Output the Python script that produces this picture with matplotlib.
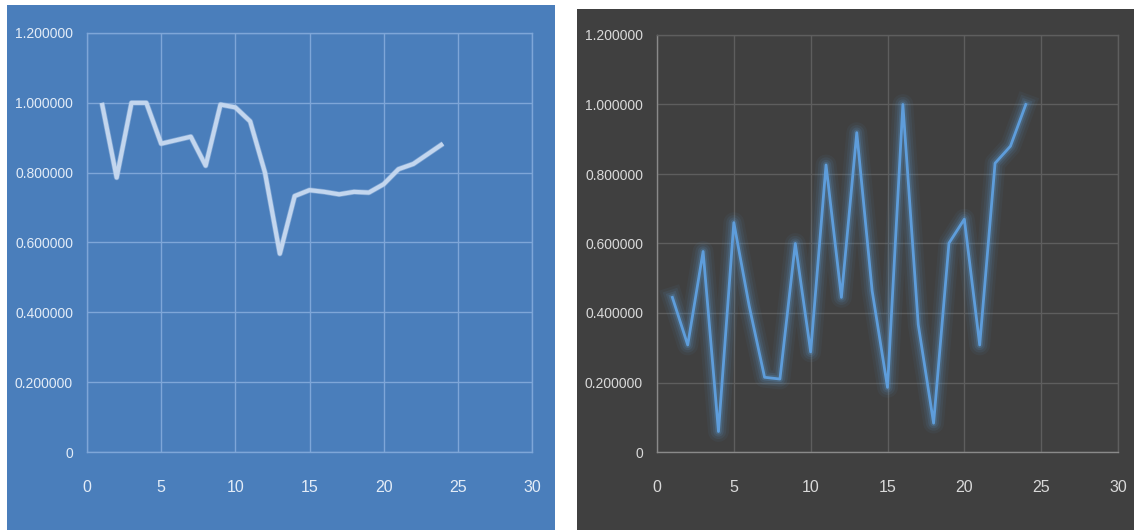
import matplotlib
matplotlib.use("Agg")
import matplotlib.pyplot as plt
import matplotlib.patheffects as pe
from matplotlib.patches import Rectangle
from matplotlib.ticker import FuncFormatter, MultipleLocator

# series values, one point per step 1..24
steps = list(range(1, 25))
ratio_a = [1.0, 0.786, 1.0, 1.0, 0.883, 0.893, 0.903, 0.82, 0.995, 0.987, 0.947, 0.80,
           0.568, 0.733, 0.75, 0.745, 0.738, 0.745, 0.743, 0.767, 0.81, 0.825, 0.854, 0.883]
ratio_b = [0.445, 0.308, 0.577, 0.059, 0.66, 0.42, 0.215, 0.21, 0.60, 0.288, 0.826, 0.445,
           0.919, 0.464, 0.186, 1.0, 0.367, 0.083, 0.601, 0.67, 0.308, 0.831, 0.88, 1.0]

plt.rcParams['font.family'] = ['Liberation Sans', 'DejaVu Sans']

W, H = 1134, 530
fig = plt.figure(figsize=(W / 100, H / 100), dpi=100, facecolor='white')

# panel backgrounds
fig.patches.append(Rectangle((7 / W, 0), 548 / W, 525 / H, transform=fig.transFigure,
                             facecolor='#4a7ebb', edgecolor='none', zorder=-5))
fig.patches.append(Rectangle((577 / W, 0), 557 / W, 521 / H, transform=fig.transFigure,
                             facecolor='#404040', edgecolor='none', zorder=-5))


def fmt(v, pos):
    return '0' if abs(v) < 1e-9 else '%.6f' % v


def style(ax, bg, grid, text):
    ax.set_zorder(2)
    ax.set_facecolor(bg)
    ax.set_xlim(0, 30)
    ax.set_ylim(0, 1.2)
    ax.xaxis.set_major_locator(MultipleLocator(5))
    ax.yaxis.set_major_locator(MultipleLocator(0.2))
    ax.yaxis.set_major_formatter(FuncFormatter(fmt))
    ax.grid(True, color=grid, linewidth=1.0)
    ax.set_axisbelow(True)
    for s in ax.spines.values():
        s.set_color(grid)
        s.set_linewidth(1.0)
    ax.tick_params(axis='y', length=0, pad=10, labelsize=10, labelcolor=text)
    ax.tick_params(axis='x', length=0, pad=20, labelsize=11.5, labelcolor=text)


# left chart
ax1 = fig.add_axes([87 / W, 78 / H, 445 / W, 419 / H])
style(ax1, '#4a7ebb', '#7ea6d8', '#e3ecf7')
ax1.plot(steps, ratio_a, color='#c3d6ee', linewidth=3.0, solid_joinstyle='round',
         solid_capstyle='butt',
         path_effects=[pe.Stroke(linewidth=4.0, foreground='#a9c4e6', alpha=0.5,
                                 joinstyle='round'), pe.Normal()])

# right chart
ax2 = fig.add_axes([657 / W, 78 / H, 461 / W, 417 / H])
style(ax2, '#404040', '#5e5e5e', '#d9d9d9')
ax2.spines['left'].set_color('#8a8a8a')
ax2.spines['bottom'].set_color('#8a8a8a')
glow = [pe.Stroke(linewidth=w, foreground='#5b9bd5', alpha=a, joinstyle='round')
        for w, a in [(15, 0.06), (11, 0.09), (7.5, 0.13), (4.5, 0.22)]]
ax2.plot(steps, ratio_b, color='#5e9ddb', linewidth=2.0, solid_joinstyle='round',
         path_effects=glow + [pe.Normal()])

fig.savefig('out.png', dpi=100, facecolor='white')
